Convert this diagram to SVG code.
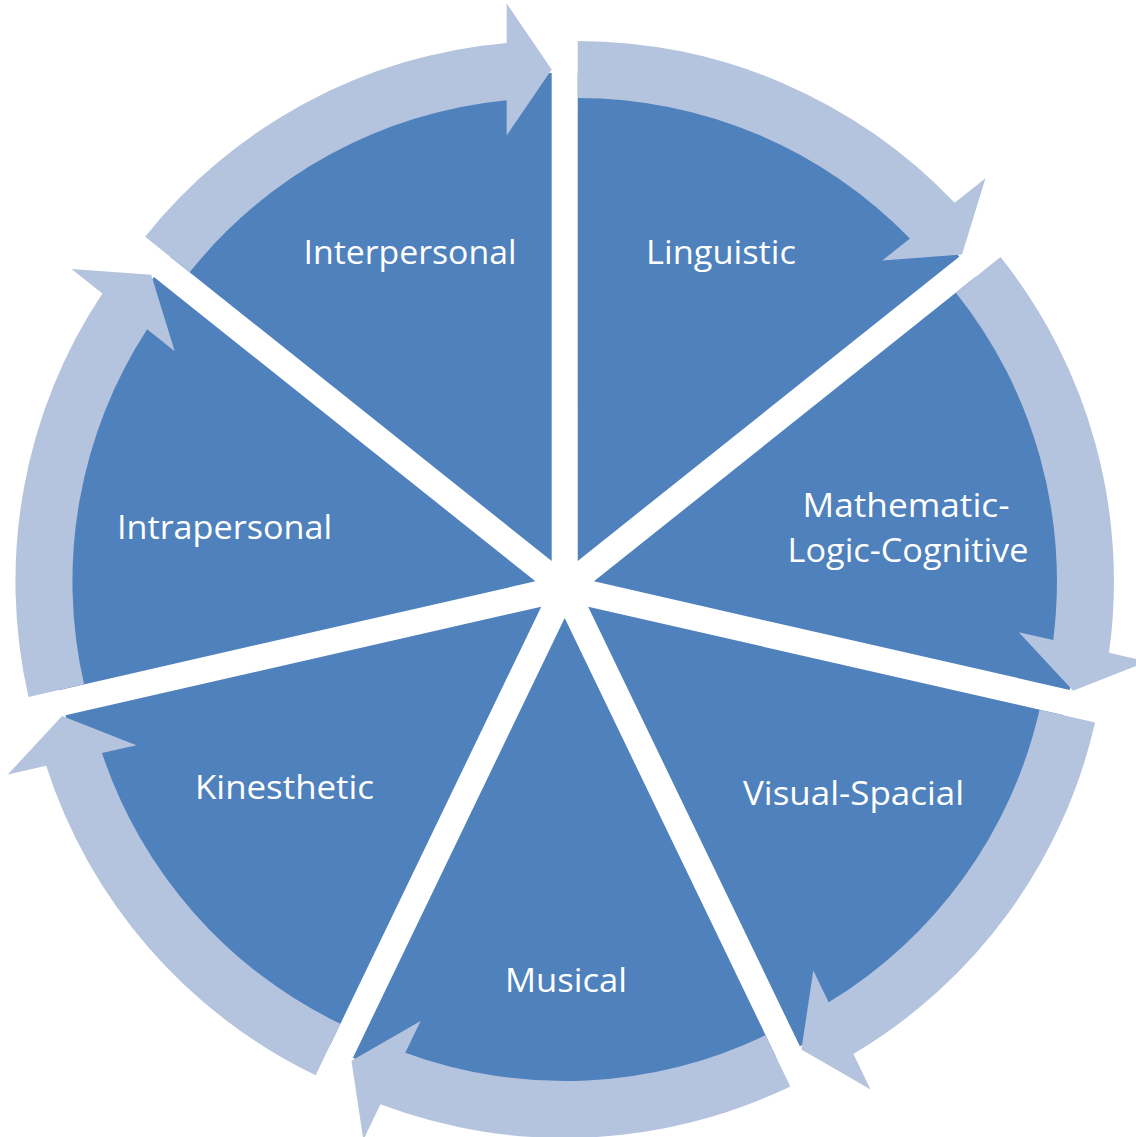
<svg xmlns="http://www.w3.org/2000/svg" width="1136" height="1137" viewBox="0 0 1136 1137">
<style>
.seg{fill:#4F81BD;}
.arr{fill:#B4C3DE;}
.lbl{font-family:"Open Sans","Noto Sans","Liberation Sans",sans-serif;font-size:33px;fill:#FFFFFF;text-anchor:middle;}
</style>
<rect width="1136" height="1137" fill="#FFFFFF"/>
<g id="linguistic">
<path class="seg" transform="translate(577.72,560.97)" d="M0 0 L0 -488 A488 488 0 0 1 381.53 -304.26 Z"/>
<text class="lbl" x="721" y="264" textLength="150" lengthAdjust="spacingAndGlyphs">Linguistic</text>
</g>
<g id="mathematic">
<path class="seg" transform="translate(593.95,581.32)" d="M0 0 L381.53 -304.26 A488 488 0 0 1 475.77 108.59 Z"/>
<text class="lbl" x="906" y="517" textLength="207" lengthAdjust="spacingAndGlyphs">Mathematic-</text>
<text class="lbl" x="908" y="562" textLength="241" lengthAdjust="spacingAndGlyphs">Logic-Cognitive</text>
</g>
<g id="visual">
<path class="seg" transform="translate(588.15,606.70)" d="M0 0 L475.77 108.59 A488 488 0 0 1 211.73 439.67 Z"/>
<text class="lbl" x="853.5" y="805" textLength="221" lengthAdjust="spacingAndGlyphs">Visual-Spacial</text>
</g>
<g id="musical">
<path class="seg" transform="translate(564.7,618)" d="M0 0 L211.73 439.67 A488 488 0 0 1 -211.73 439.67 Z"/>
<text class="lbl" x="566" y="992" textLength="122" lengthAdjust="spacingAndGlyphs">Musical</text>
</g>
<g id="kinesthetic">
<path class="seg" transform="translate(541.25,606.70)" d="M0 0 L-211.73 439.67 A488 488 0 0 1 -475.77 108.59 Z"/>
<text class="lbl" x="284.5" y="799" textLength="179" lengthAdjust="spacingAndGlyphs">Kinesthetic</text>
</g>
<g id="intrapersonal">
<path class="seg" transform="translate(535.45,581.32)" d="M0 0 L-475.77 108.59 A488 488 0 0 1 -381.53 -304.26 Z"/>
<text class="lbl" x="224.5" y="539" textLength="215" lengthAdjust="spacingAndGlyphs">Intrapersonal</text>
</g>
<g id="interpersonal">
<path class="seg" transform="translate(551.68,560.97)" d="M0 0 L-381.53 -304.26 A488 488 0 0 1 0 -488 Z"/>
<text class="lbl" x="410" y="264" textLength="213" lengthAdjust="spacingAndGlyphs">Interpersonal</text>
</g>
<g id="connectors">
<path class="arr" transform="translate(577.72,560.97)" d="M0 -520 A520 520 0 0 1 376.97 -358.18 L407.81 -382.78 L384.27 -306.45 L304.61 -300.47 L332.21 -322.49 A463 463 0 0 0 0 -463 Z"/>
<path class="arr" transform="translate(593.95,581.32)" d="M406.55 -324.21 A520 520 0 0 1 515.07 71.41 L553.53 80.18 L479.18 109.37 L424.84 50.81 L459.27 58.67 A463 463 0 0 0 361.99 -288.68 Z"/>
<path class="arr" transform="translate(588.15,606.70)" d="M506.96 115.71 A520 520 0 0 1 265.31 447.23 L282.43 482.77 L213.25 442.83 L225.16 363.84 L240.48 395.66 A463 463 0 0 0 451.39 103.03 Z"/>
<path class="arr" transform="translate(564.7,618)" d="M225.62 468.50 A520 520 0 0 1 -184.23 486.28 L-201.35 521.82 L-213.25 442.83 L-144.08 402.89 L-159.40 434.71 A463 463 0 0 0 200.89 417.15 Z"/>
<path class="arr" transform="translate(541.25,606.70)" d="M-225.62 468.50 A520 520 0 0 1 -495.05 159.15 L-533.51 167.92 L-479.18 109.37 L-404.82 138.55 L-439.25 146.41 A463 463 0 0 0 -200.89 417.15 Z"/>
<path class="arr" transform="translate(535.45,581.32)" d="M-506.96 115.71 A520 520 0 0 1 -433.09 -287.82 L-463.93 -312.42 L-384.27 -306.45 L-360.73 -230.11 L-388.33 -252.13 A463 463 0 0 0 -451.39 103.03 Z"/>
<path class="arr" transform="translate(551.68,560.97)" d="M-406.55 -324.21 A520 520 0 0 1 -45 -518.05 L-45 -557.5 L0 -491.5 L-45 -425.5 L-45 -460.81 A463 463 0 0 0 -361.99 -288.68 Z"/>
</g>
</svg>
